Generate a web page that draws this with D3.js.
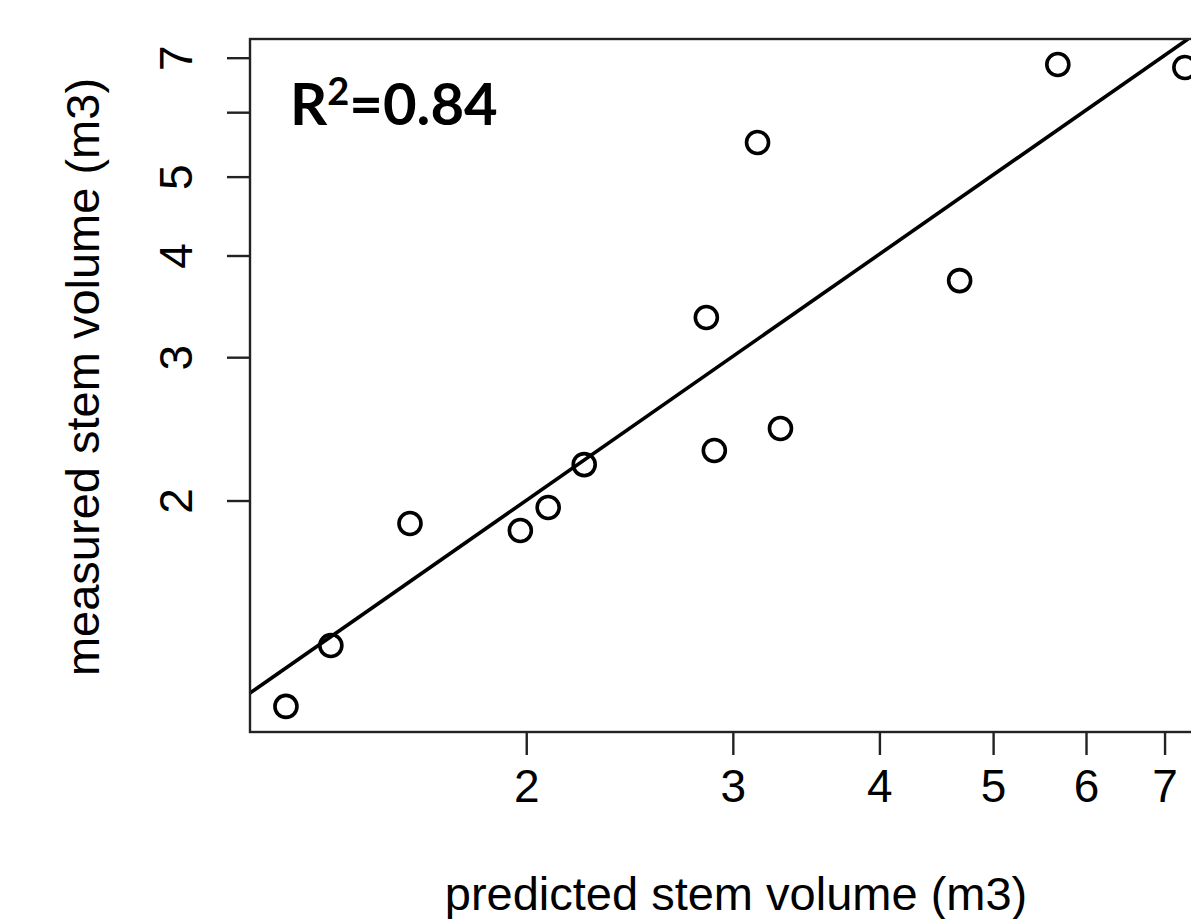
<!DOCTYPE html>
<html>
<head>
<meta charset="utf-8">
<script src="https://cdn.jsdelivr.net/npm/d3@7"></script>
<style>
  body { margin: 0; background: #fff; }
  svg { display: block; }
</style>
</head>
<body>
<div id="chart"></div>
<script>
// predicted vs measured stem volume (m3)
const predicted = [1.248, 1.363, 1.592, 1.977, 2.088, 2.241, 2.848, 2.893, 3.149, 3.294, 4.682, 5.677, 7.285];
const measured  = [1.117, 1.327, 1.874, 1.837, 1.961, 2.214, 3.356, 2.304, 5.506, 2.452, 3.726, 6.866, 6.808];

// fitted line ends (predicted, measured)
const fitX = [1.163, 7.33];
const fitY = [1.160, 7.38];

const xTicks = [2, 3, 4, 5, 6, 7];
const yTicks = [2, 3, 4, 5, 6, 7];
const yTickLabels = ["2", "3", "4", "5", "", "7"];

const xLim = [1.163, 7.82];
const yLim = [1.039, 7.38];

const width = 1191, height = 919;
const box = {left: 250, top: 39, right: 1221, bottom: 732};
const font = "'Liberation Sans', Arial, sans-serif";

const svg = d3.select("#chart").append("svg")
    .attr("width", width)
    .attr("height", height);

// set the ranges
const x = d3.scaleLog().domain(xLim).range([box.left, box.right]);
const y = d3.scaleLog().domain(yLim).range([box.bottom, box.top]);

// clip for the plot region
svg.append("clipPath").attr("id", "plotClip")
    .append("rect")
    .attr("x", box.left).attr("y", box.top)
    .attr("width", box.right - box.left).attr("height", box.bottom - box.top);

const plot = svg.append("g").attr("clip-path", "url(#plotClip)");

// fitted line
const fitData = fitX.map((v, i) => ({x: v, y: fitY[i]}));
plot.append("path")
    .datum(fitData)
    .attr("fill", "none")
    .attr("stroke", "#000")
    .attr("stroke-width", 3.6)
    .attr("d", d3.line().x(d => x(d.x)).y(d => y(d.y)));

// points
const points = predicted.map((v, i) => ({x: v, y: measured[i]}));
plot.selectAll("circle.pt")
    .data(points)
    .enter().append("circle")
    .attr("class", "pt")
    .attr("cx", d => x(d.x))
    .attr("cy", d => y(d.y))
    .attr("r", 11)
    .attr("fill", "none")
    .attr("stroke", "#000")
    .attr("stroke-width", 3.6);

// box
svg.append("rect")
    .attr("x", box.left).attr("y", box.top)
    .attr("width", box.right - box.left).attr("height", box.bottom - box.top)
    .attr("fill", "none")
    .attr("stroke", "#222")
    .attr("stroke-width", 2.4);

// x axis
const xAxis = svg.append("g")
    .attr("transform", "translate(0," + box.bottom + ")")
    .call(d3.axisBottom(x).tickValues(xTicks).tickFormat(d3.format("d"))
        .tickSize(23).tickPadding(14));
xAxis.select(".domain").remove();
xAxis.selectAll(".tick line").attr("stroke", "#222").attr("stroke-width", 2.4);
xAxis.selectAll(".tick text")
    .attr("fill", "#000")
    .style("font-family", font)
    .style("font-size", "46px");

// y axis
const yAxis = svg.append("g")
    .attr("transform", "translate(" + box.left + ",0)")
    .call(d3.axisLeft(y).tickValues(yTicks).tickFormat((d, i) => yTickLabels[i])
        .tickSize(23).tickPadding(0));
yAxis.select(".domain").remove();
yAxis.selectAll(".tick line").attr("stroke", "#222").attr("stroke-width", 2.4);
yAxis.selectAll(".tick text")
    .attr("fill", "#000")
    .attr("x", null).attr("dy", null)
    .attr("text-anchor", "middle")
    .attr("transform", "translate(-58,0) rotate(-90)")
    .style("font-family", font)
    .style("font-size", "46px");

// axis titles
svg.append("text")
    .attr("x", 736).attr("y", 910)
    .attr("text-anchor", "middle")
    .style("font-family", font)
    .style("font-size", "47px")
    .text("predicted stem volume (m3)");

svg.append("text")
    .attr("transform", "translate(99,377) rotate(-90)")
    .attr("text-anchor", "middle")
    .style("font-family", font)
    .style("font-size", "47px")
    .text("measured stem volume (m3)");

// R2 annotation
const r2 = svg.append("text")
    .attr("x", 290).attr("y", 125)
    .style("font-family", "Lato, 'Open Sans', sans-serif")
    .style("font-weight", "bold")
    .style("font-size", "58px");
r2.append("tspan").text("R");
r2.append("tspan").attr("dy", -20).style("font-size", "38px").text("2");
r2.append("tspan").attr("dy", 20).text("=0.84");
</script>
</body>
</html>
